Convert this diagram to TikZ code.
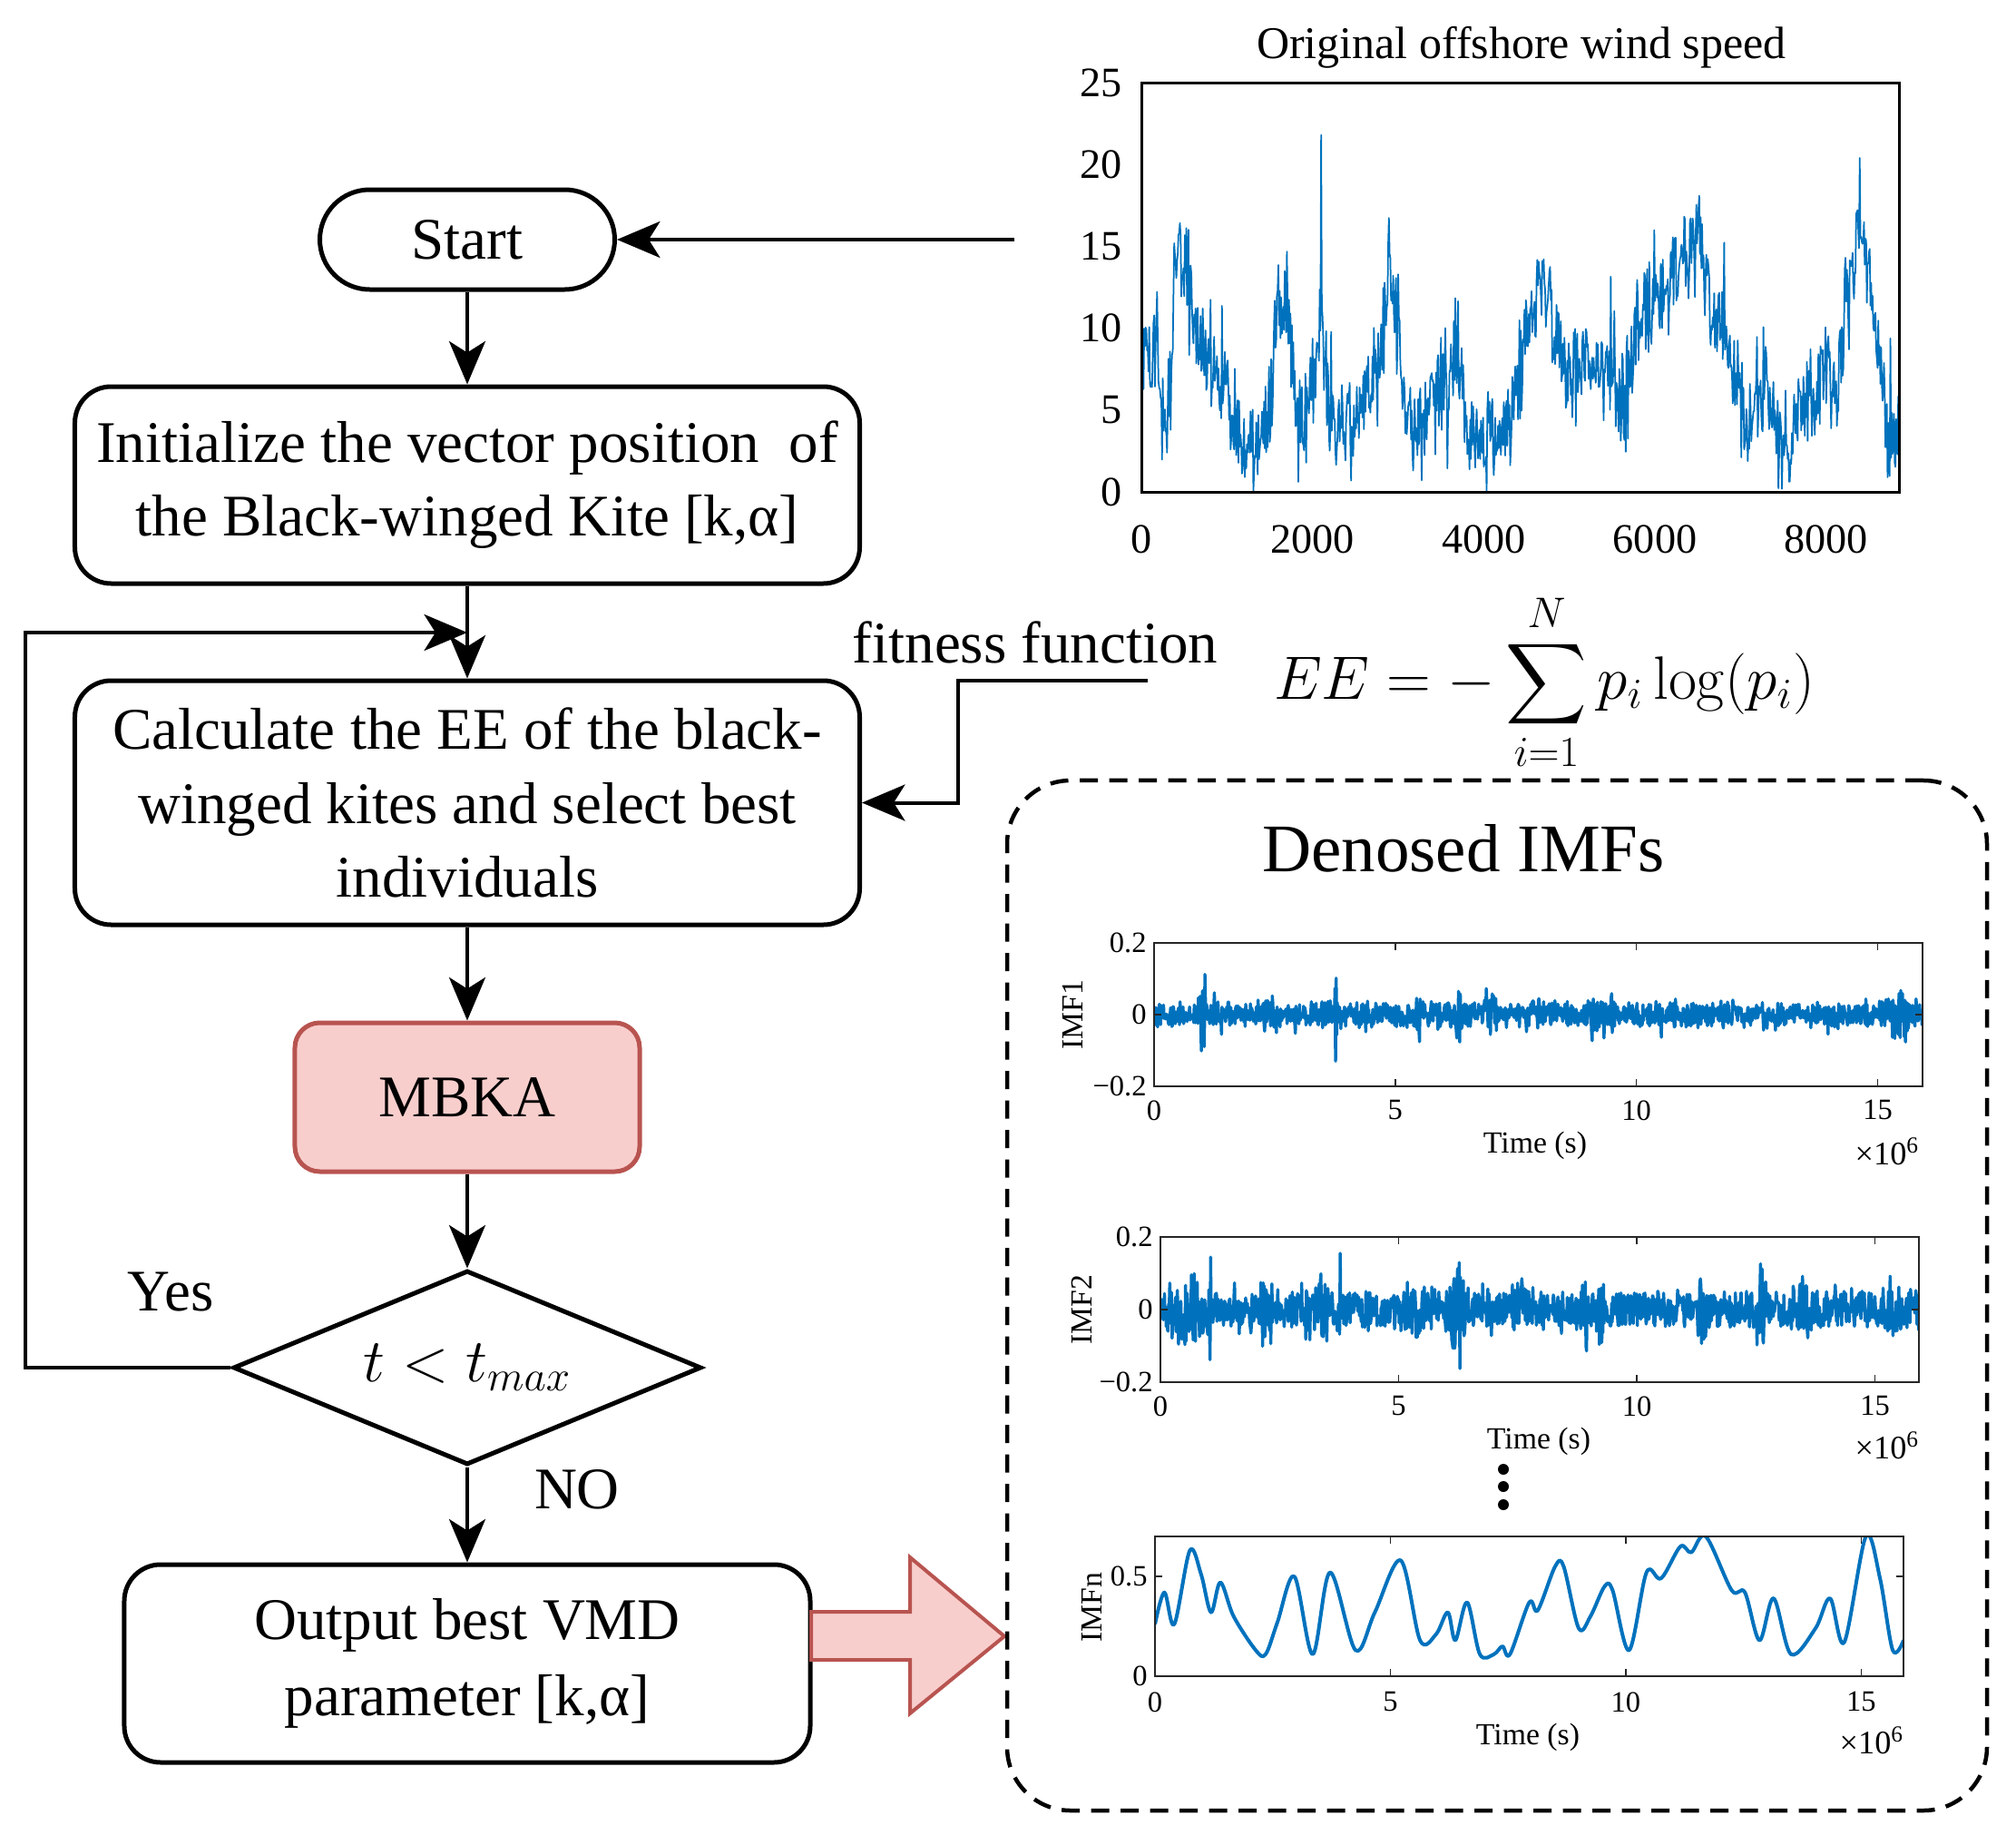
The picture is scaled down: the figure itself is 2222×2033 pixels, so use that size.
\documentclass[tikz,border=0pt]{standalone}
\usepackage{fix-cm}
\usepackage{exscale}
\usepackage[no-math]{fontspec}
\setmainfont{Liberation Serif}
\usetikzlibrary{arrows.meta,shapes.geometric,calc}
\definecolor{mblue}{HTML}{0072BD}
\definecolor{pinkfill}{HTML}{F8CECC}
\definecolor{pinkdraw}{HTML}{B85450}
\begin{document}
\begin{tikzpicture}[x=0.4pt,y=-0.4pt,
  declare function={hh(\x,\c,\w)=max(0,1-abs(\x-\c)/\w);},
  flowtext/.style={font=\fontsize{26}{32.5}\selectfont},
  flowbox/.style={draw, line width=2pt, rounded corners=16pt, align=center, inner sep=0pt, flowtext},
  conn/.style={line width=1.6pt, -{Stealth[length=19pt,width=16pt,inset=5pt]}},
  axisframe/.style={draw=black!85, line width=0.6pt},
  ticklab/.style={font=\fontsize{13}{15}\selectfont, inner sep=0pt},
  axlab/.style={font=\fontsize{13.5}{16}\selectfont, inner sep=0pt},
  explab/.style={font=\fontsize{14.5}{17}\selectfont, inner sep=0pt},
  windlab/.style={font=\fontsize{18.5}{22}\selectfont, inner sep=0pt},
  sig/.style={mblue, line join=round},
]
\useasboundingbox (0,0) rectangle (2222,2033);

% ---------------- flowchart ----------------
\node[flowbox, rounded corners=22pt, minimum width=130pt, minimum height=44pt] (start) at (515,264) {Start};
\node[flowbox, minimum width=346pt, minimum height=86.8pt] (init) at (515,534.5) {Initialize the vector position\enspace of\\the Black-winged Kite [k,α]};
\node[flowbox, minimum width=346pt, minimum height=107.6pt] (calc) at (515,884.5) {Calculate the EE of the black-\\winged kites and select best\\individuals};
\node[flowbox, draw=pinkdraw, fill=pinkfill, rounded corners=11pt, minimum width=152pt, minimum height=65.6pt] (mbka) at (515,1209) {MBKA};
\node[draw, diamond, aspect=2.41, line width=2pt, minimum width=206.4pt, minimum height=85.6pt, inner sep=0pt, font=\fontsize{27}{32}\selectfont] (dec) at (515,1507) {$t<t_{max}$};
\node[flowbox, minimum width=302.4pt, minimum height=87.2pt, font=\fontsize{26}{33.5}\selectfont] (out) at (515,1833) {Output best VMD\\parameter [k,α]};

\node[flowtext, inner sep=0pt] (yes) at (188,1424) {Yes};
\node[flowtext, inner sep=0pt] (no) at (636,1641) {NO};

\draw[conn] (start.south) -- (init.north);
\draw[conn] (init.south) -- (calc.north);
\draw[conn] (calc.south) -- (mbka.north);
\draw[conn] (mbka.south) -- (dec.north);
\draw[conn] (dec.south) -- (out.north);
\coordinate (loopL) at (28,697);
\coordinate (loopend) at (515,697);
\draw[conn] (dec.west) -| (loopL) -- (loopend);

\coordinate (windsrc) at (1118,264);
\draw[conn] (windsrc) -- (start.east);

\node[flowtext, inner sep=0pt] (fitlab) at (1141,708) {fitness function};
\coordinate (fitsrc) at (1265,750);
\coordinate (fitbend) at (1056,750);
\draw[conn] (fitsrc) -- (fitbend) |- (calc.east);

\node[inner sep=0pt, font=\fontsize{27}{32}\selectfont] (formula) at (1702,752) {$\displaystyle EE=-\sum_{i=1}^{N}p_i\log(p_i)$};

% big output arrow
\draw[pinkdraw, fill=pinkfill, line width=1.6pt, line join=miter]
  (894,1776) -- (1003,1776) -- (1003,1716) -- (1107,1803) -- (1003,1888) -- (1003,1829) -- (894,1829) -- cycle;

% dashed box
\node[draw, line width=1.8pt, dash pattern=on 8pt off 5pt, rounded corners=28pt, minimum width=432pt, minimum height=454pt, inner sep=0pt] (imfbox) at (1650,1427.5) {};
\node[inner sep=0pt, font=\fontsize{30}{35}\selectfont] (imftitle) at (1613,935) {Denosed IMFs};

% ---------------- wind speed plot ----------------
\node[windlab, font=\fontsize{20}{24}\selectfont] (windtitle) at (1677,52) {Original offshore wind speed};
\begin{scope}[shift={(1258,542)}, xscale=94.35, yscale=-18.04]
  \begin{scope}
    \clip (0,0) rectangle (8.85,25);
    \pgfmathsetseed{11}
    \draw[sig, line width=0.7pt] (0,8)
      \foreach \yb [remember=\yb as \ya (initially 8), count=\k] in
      {9,8,4,14.5,15,11,9.5,8,7,6,4.5,3,2.5,3,5,12,11,6,3,8,10,6,4,3.5,5,6.5,7.5,9,13.5,10,
       5,4,4,6,7,5.5,9,4,2.5,2.5,3,3,4,6.5,9.5,11,13,10.5,9,6.5,8,8.5,8,6.5,7.5,5,8,
       10.5,10.5,11,12,13.5,14.5,14.5,16,13,11,9,8,6,3,5,6.5,5,2,3.5,4.5,5,6,7.5,6,9,12.5,16.5,
       13,8,4,3.5,4}
      { \foreach \j in {1,...,12} { -- ({(\k-1+\j/12)/10}, {max(0.05, \ya+(\yb-\ya)*\j/12 + 2.5*rand + 8*rand*rand*rand*rand + 13*hh((\k-1+\j/12)/10,2.1,0.009))}) } };
  \end{scope}
  \draw[line width=1.2pt] (0,0) rectangle (8.85,25);
\end{scope}
\foreach \v/\py in {0/542,5/451.8,10/361.6,15/271.4,20/181.2,25/91}
  \node[windlab, anchor=east] at (1237,\py) {\v};
\foreach \v in {0,2000,4000,6000,8000}
  \node[windlab, anchor=north] at ({1258+\v*0.09435},578) {\v};

% ---------------- IMF1 ----------------
\begin{scope}[shift={(1272,1118)}, xscale=53.17, yscale=-395]
  \begin{scope}
    \clip (0,-0.2) rectangle (15.93,0.2);
    \pgfmathsetseed{23}
    \draw[sig, line width=1.35pt] (0,0)
      \foreach \i in {1,...,1300} { -- ({\i/81.6}, {rand*(0.032 + 0.06*rand*rand*rand
        + 0.10*hh(\i/81.6,1.0,0.12) + 0.07*hh(\i/81.6,5.47,0.1)
        + 0.08*hh(\i/81.6,6.33,0.1) + 0.04*hh(\i/81.6,9.1,0.15) + 0.04*hh(\i/81.6,9.47,0.1)
        + 0.08*hh(\i/81.6,14.13,0.08) + 0.06*hh(\i/81.6,15.5,0.35) + 0.03*hh(\i/81.6,2.4,0.2)
        + 0.03*hh(\i/81.6,7,0.2)) + (1-2*mod(\i,2))*(0.15*hh(\i/81.6,1.04,0.03) + 0.16*hh(\i/81.6,3.77,0.03) + 0.08*hh(\i/81.6,14.13,0.03))}) };
  \end{scope}
  \draw[axisframe] (0,-0.2) rectangle (15.93,0.2);
  \foreach \t in {0,5,10,15} \draw[axisframe] (\t,-0.2) -- ++(0,0.02) (\t,0.2) -- ++(0,-0.02);
  \foreach \t in {-0.2,0,0.2} \draw[axisframe] (0,\t) -- ++(0.15,0) (15.93,\t) -- ++(-0.15,0);
\end{scope}
\node[ticklab, anchor=east] at (1264,1039) {0.2};
\node[ticklab, anchor=east] at (1264,1118) {0};
\node[ticklab, anchor=east] at (1264,1197) {−0.2};
\foreach \t in {0,5,10,15} \node[ticklab, anchor=north] at ({1272+\t*53.17},1212) {\t};
\node[axlab] (tl1) at (1692,1262) {Time (s)};
\node[explab] (ex1) at (2080,1269) {×10\textsuperscript{6}};
\node[axlab, rotate=90] (yl1) at (1182,1118) {IMF1};

% ---------------- IMF2 ----------------
\begin{scope}[shift={(1279,1443)}, xscale=52.5, yscale=-400]
  \begin{scope}
    \clip (0,-0.2) rectangle (15.92,0.2);
    \pgfmathsetseed{37}
    \draw[sig, line width=1.35pt] (0,0)
      \foreach \i in {1,...,1300} { -- ({\i/81.6}, {rand*(0.048 + 0.065*rand*rand*rand
        + 0.07*hh(\i/81.6,0.6,0.5) + 0.06*hh(\i/81.6,2.2,0.15)
        + 0.05*hh(\i/81.6,3.07,0.15) + 0.07*hh(\i/81.6,3.4,0.15)
        + 0.04*hh(\i/81.6,5.3,0.3) + 0.09*hh(\i/81.6,6.2,0.25) + 0.04*hh(\i/81.6,7.6,0.3)
        + 0.07*hh(\i/81.6,8.94,0.15) + 0.06*hh(\i/81.6,9.2,0.15) + 0.06*hh(\i/81.6,11.36,0.15)
        + 0.08*hh(\i/81.6,12.6,0.2) + 0.06*hh(\i/81.6,13.5,0.2) + 0.03*hh(\i/81.6,15.3,0.3))
        + (1-2*mod(\i,2))*(0.14*hh(\i/81.6,1.05,0.03) + 0.14*hh(\i/81.6,3.77,0.03) + 0.12*hh(\i/81.6,6.3,0.03))}) };
  \end{scope}
  \draw[axisframe] (0,-0.2) rectangle (15.92,0.2);
  \foreach \t in {0,5,10,15} \draw[axisframe] (\t,-0.2) -- ++(0,0.02) (\t,0.2) -- ++(0,-0.02);
  \foreach \t in {-0.2,0,0.2} \draw[axisframe] (0,\t) -- ++(0.15,0) (15.92,\t) -- ++(-0.15,0);
\end{scope}
\node[ticklab, anchor=east] at (1271,1363) {0.2};
\node[ticklab, anchor=east] at (1271,1443) {0};
\node[ticklab, anchor=east] at (1271,1523) {−0.2};
\foreach \t in {0,5,10,15} \node[ticklab, anchor=north] at ({1279+\t*52.5},1538) {\t};
\node[axlab] (tl2) at (1696,1588) {Time (s)};
\node[explab] (ex2) at (2080,1593) {×10\textsuperscript{6}};
\node[axlab, rotate=90] (yl2) at (1192,1443) {IMF2};

\fill (1657,1619) circle (2.4pt) (1657,1638) circle (2.4pt) (1657,1658) circle (2.4pt);

% ---------------- IMFn ----------------
\begin{scope}[shift={(1273,1847)}, xscale=51.89, yscale=-220]
  \begin{scope}
    \clip (0,0) rectangle (15.9,0.7);
    \draw[sig, line width=1.6pt] plot[smooth, tension=0.55] coordinates {
      (0,0.26) (0.2,0.42) (0.41,0.26) (0.74,0.63) (0.98,0.51) (1.19,0.32) (1.39,0.47)
      (1.67,0.30) (2.14,0.13) (2.35,0.11) (2.6,0.27) (2.96,0.5) (3.35,0.11) (3.72,0.52)
      (4.26,0.13) (4.67,0.32) (5.22,0.58) (5.63,0.18) (5.97,0.21) (6.22,0.32) (6.38,0.18)
      (6.63,0.37) (6.9,0.11) (7.2,0.11) (7.38,0.15) (7.54,0.11) (7.95,0.37) (8.13,0.33)
      (8.5,0.55) (8.68,0.55) (9.0,0.24) (9.25,0.30) (9.55,0.45) (9.72,0.43) (10.07,0.13)
      (10.44,0.52) (10.75,0.49) (11.16,0.65) (11.39,0.62) (11.7,0.70) (12.25,0.43)
      (12.53,0.42) (12.84,0.18) (13.14,0.39) (13.51,0.11) (14.03,0.24) (14.34,0.39)
      (14.64,0.17) (15.1,0.70) (15.4,0.49) (15.67,0.13) (15.9,0.18)};
  \end{scope}
  \draw[axisframe] (0,0) rectangle (15.9,0.7);
  \foreach \t in {0,5,10,15} \draw[axisframe] (\t,0) -- ++(0,0.036) (\t,0.7) -- ++(0,-0.036);
  \foreach \t in {0,0.5} \draw[axisframe] (0,\t) -- ++(0.15,0) (15.9,\t) -- ++(-0.15,0);
\end{scope}
\node[ticklab, anchor=east] at (1265,1737) {0.5};
\node[ticklab, anchor=east] at (1265,1847) {0};
\foreach \t in {0,5,10,15} \node[ticklab, anchor=north] at ({1273+\t*51.89},1864) {\t};
\node[axlab] (tl3) at (1684,1914) {Time (s)};
\node[explab] (ex3) at (2063,1918) {×10\textsuperscript{6}};
\node[axlab, rotate=90] (yl3) at (1203,1771) {IMFn};

\end{tikzpicture}
\end{document}
